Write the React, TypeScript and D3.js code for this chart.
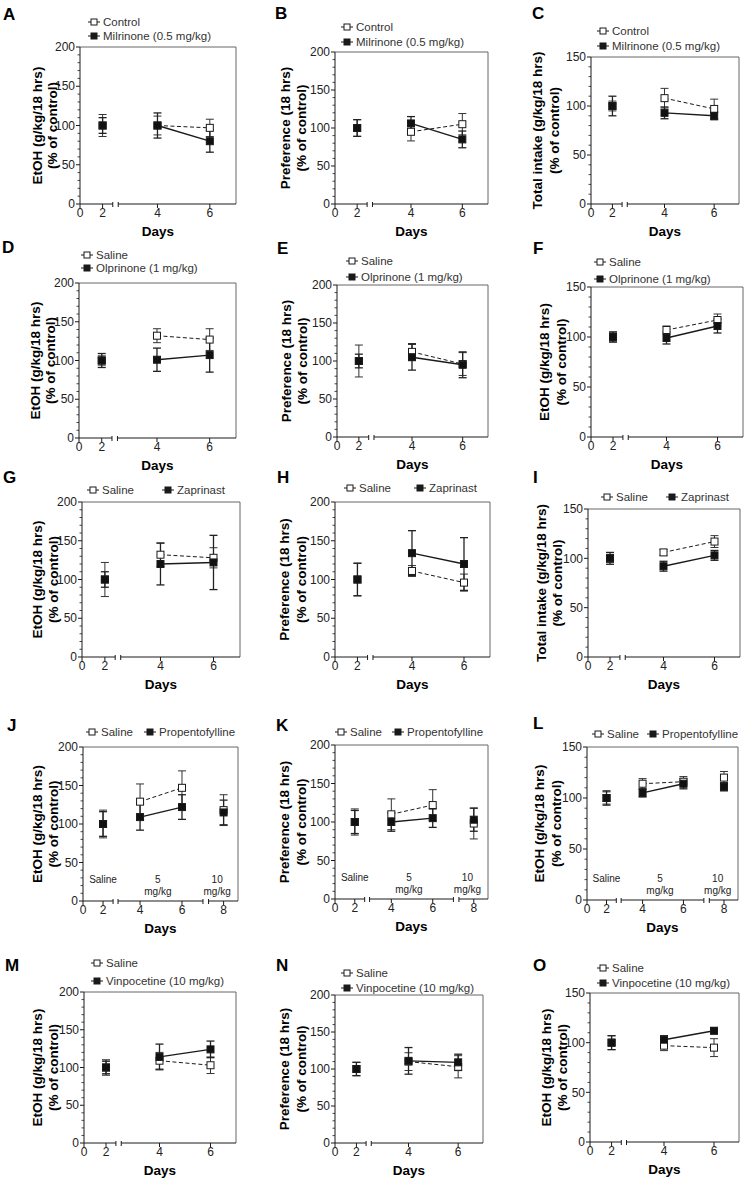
import React from 'react';
import * as d3 from 'd3';

// ---------- DATA ----------
const days3 = [2, 4, 6];
const days4 = [2, 4, 6, 8];

const A_ctrl = [100, 100, 97];  const A_ctrlErr = [14, 12, 11];
const A_drug = [100, 100, 80];  const A_drugErr = [10, 16, 14];
const B_ctrl = [100, 95, 105];  const B_ctrlErr = [11, 12, 14];
const B_drug = [100, 106, 85];  const B_drugErr = [11, 9, 11];
const C_ctrl = [100, 108, 97];  const C_ctrlErr = [5, 10, 10];
const C_drug = [100, 93, 90];   const C_drugErr = [10, 6, 4];
const D_ctrl = [100, 132, 127]; const D_ctrlErr = [6, 9, 14];
const D_drug = [100, 101, 107]; const D_drugErr = [9, 15, 22];
const E_ctrl = [100, 112, 96];  const E_ctrlErr = [21, 11, 15];
const E_drug = [100, 105, 95];  const E_drugErr = [9, 17, 17];
const F_ctrl = [100, 107, 117]; const F_ctrlErr = [5, 4, 6];
const F_drug = [100, 99, 111];  const F_drugErr = [5, 6, 7];
const G_ctrl = [100, 132, 128]; const G_ctrlErr = [22, 15, 13];
const G_drug = [100, 120, 122]; const G_drugErr = [10, 27, 35];
const H_ctrl = [100, 111, 96];  const H_ctrlErr = [21, 7, 11];
const H_drug = [100, 134, 120]; const H_drugErr = [21, 29, 34];
const I_ctrl = [100, 106, 117]; const I_ctrlErr = [4, 3, 6];
const I_drug = [100, 92, 103];  const I_drugErr = [6, 5, 5];
const J_ctrl = [100, 129, 147, 118]; const J_ctrlErr = [18, 23, 22, 20];
const J_drug = [100, 109, 122, 115]; const J_drugErr = [16, 17, 16, 16];
const K_ctrl = [100, 110, 122, 98];  const K_ctrlErr = [17, 20, 20, 20];
const K_drug = [100, 100, 105, 103]; const K_drugErr = [15, 12, 12, 15];
const L_ctrl = [100, 114, 116, 120]; const L_ctrlErr = [6, 5, 5, 6];
const L_drug = [100, 105, 114, 111]; const L_drugErr = [7, 4, 5, 4];
const M_ctrl = [100, 109, 103]; const M_ctrlErr = [8, 11, 11];
const M_drug = [100, 114, 124]; const M_drugErr = [10, 17, 11];
const N_ctrl = [100, 110, 103]; const N_ctrlErr = [9, 12, 15];
const N_drug = [100, 111, 109]; const N_drugErr = [9, 18, 11];
const O_ctrl = [100, 97, 95];   const O_ctrlErr = [7, 5, 9];
const O_drug = [100, 103, 112]; const O_drugErr = [7, 4, 3];

const labEtOH = ['EtOH (g/kg/18 hrs)', '(% of control)'];
const labPref = ['Preference (18 hrs)', '(% of control)'];
const labTotal = ['Total intake (g/kg/18 hrs)', '(% of control)'];

const legMil = ['Control', 'Milrinone (0.5 mg/kg)'];
const legOlp = ['Saline', 'Olprinone (1 mg/kg)'];
const legZap = ['Saline', 'Zaprinast'];
const legProp = ['Saline', 'Propentofylline'];
const legVin = ['Saline', 'Vinpocetine (10 mg/kg)'];

const xTicks3 = [0, 2, 4, 6];
const xTicks4 = [0, 2, 4, 6, 8];
const doseLabels = [['Saline'], ['5', 'mg/kg'], ['10', 'mg/kg']];
const doseAt = [2, 4.85, 7.7];

const panels = [
  { id: 'A', days: days3, ctrl: A_ctrl, ctrlErr: A_ctrlErr, drug: A_drug, drugErr: A_drugErr, ymax: 200, ylab: labEtOH, legend: legMil },
  { id: 'B', days: days3, ctrl: B_ctrl, ctrlErr: B_ctrlErr, drug: B_drug, drugErr: B_drugErr, ymax: 200, ylab: labPref, legend: legMil },
  { id: 'C', days: days3, ctrl: C_ctrl, ctrlErr: C_ctrlErr, drug: C_drug, drugErr: C_drugErr, ymax: 150, ylab: labTotal, legend: legMil },
  { id: 'D', days: days3, ctrl: D_ctrl, ctrlErr: D_ctrlErr, drug: D_drug, drugErr: D_drugErr, ymax: 200, ylab: labEtOH, legend: legOlp },
  { id: 'E', days: days3, ctrl: E_ctrl, ctrlErr: E_ctrlErr, drug: E_drug, drugErr: E_drugErr, ymax: 200, ylab: labPref, legend: legOlp },
  { id: 'F', days: days3, ctrl: F_ctrl, ctrlErr: F_ctrlErr, drug: F_drug, drugErr: F_drugErr, ymax: 150, ylab: labEtOH, legend: legOlp },
  { id: 'G', days: days3, ctrl: G_ctrl, ctrlErr: G_ctrlErr, drug: G_drug, drugErr: G_drugErr, ymax: 200, ylab: labEtOH, legend: legZap },
  { id: 'H', days: days3, ctrl: H_ctrl, ctrlErr: H_ctrlErr, drug: H_drug, drugErr: H_drugErr, ymax: 200, ylab: labPref, legend: legZap },
  { id: 'I', days: days3, ctrl: I_ctrl, ctrlErr: I_ctrlErr, drug: I_drug, drugErr: I_drugErr, ymax: 150, ylab: labTotal, legend: legZap },
  { id: 'J', days: days4, ctrl: J_ctrl, ctrlErr: J_ctrlErr, drug: J_drug, drugErr: J_drugErr, ymax: 200, ylab: labEtOH, legend: legProp },
  { id: 'K', days: days4, ctrl: K_ctrl, ctrlErr: K_ctrlErr, drug: K_drug, drugErr: K_drugErr, ymax: 200, ylab: labPref, legend: legProp },
  { id: 'L', days: days4, ctrl: L_ctrl, ctrlErr: L_ctrlErr, drug: L_drug, drugErr: L_drugErr, ymax: 150, ylab: labEtOH, legend: legProp },
  { id: 'M', days: days3, ctrl: M_ctrl, ctrlErr: M_ctrlErr, drug: M_drug, drugErr: M_drugErr, ymax: 200, ylab: labEtOH, legend: legVin },
  { id: 'N', days: days3, ctrl: N_ctrl, ctrlErr: N_ctrlErr, drug: N_drug, drugErr: N_drugErr, ymax: 200, ylab: labPref, legend: legVin },
  { id: 'O', days: days3, ctrl: O_ctrl, ctrlErr: O_ctrlErr, drug: O_drug, drugErr: O_drugErr, ymax: 150, ylab: labEtOH, legend: legVin },
];

// ---------- LAYOUT ----------
type Leg = { row: boolean; mx: number[]; ys: number[] };
type Lay = { x0: number; x1: number; y0: number; y1: number; letter: number[]; yl: number[]; leg: Leg };
const layouts: Record<string, Lay> = {
  A: { x0: 80, x1: 236, y0: 47, y1: 204, letter: [3, 14], yl: [-43, -28], leg: { row: false, mx: [94], ys: [22, 36] } },
  B: { x0: 335, x1: 488, y0: 52, y1: 204, letter: [275, 13], yl: [-50, -34], leg: { row: false, mx: [347], ys: [27, 42] } },
  C: { x0: 591, x1: 739, y0: 57, y1: 204, letter: [532, 13], yl: [-54, -37], leg: { row: false, mx: [603], ys: [31, 46] } },
  D: { x0: 79, x1: 236, y0: 283, y1: 438, letter: [2, 247], yl: [-44, -29], leg: { row: false, mx: [87], ys: [255, 268] } },
  E: { x0: 337, x1: 488, y0: 285, y1: 437, letter: [277, 248], yl: [-51, -35], leg: { row: false, mx: [352], ys: [261, 277] } },
  F: { x0: 591, x1: 743, y0: 287, y1: 437, letter: [533, 248], yl: [-47, -30], leg: { row: false, mx: [600], ys: [262, 279] } },
  G: { x0: 82, x1: 240, y0: 502, y1: 657, letter: [3, 477], yl: [-45, -29], leg: { row: true, mx: [93, 168], ys: [490] } },
  H: { x0: 335, x1: 490, y0: 502, y1: 657, letter: [277, 477], yl: [-51, -34], leg: { row: true, mx: [350, 420], ys: [488] } },
  I: { x0: 588, x1: 740, y0: 509, y1: 657, letter: [533, 477], yl: [-47, -31], leg: { row: true, mx: [607, 672], ys: [497] } },
  J: { x0: 83, x1: 238, y0: 747, y1: 901, letter: [7, 725], yl: [-46, -30], leg: { row: true, mx: [92, 150], ys: [732] } },
  K: { x0: 335, x1: 488, y0: 745, y1: 899, letter: [276, 725], yl: [-51, -34], leg: { row: true, mx: [341, 398], ys: [732] } },
  L: { x0: 587, x1: 738, y0: 747, y1: 900, letter: [533, 723], yl: [-48, -31], leg: { row: true, mx: [598, 653], ys: [734] } },
  M: { x0: 84, x1: 236, y0: 992, y1: 1143, letter: [5, 965], yl: [-47, -31], leg: { row: false, mx: [97], ys: [963, 981] } },
  N: { x0: 335, x1: 483, y0: 995, y1: 1143, letter: [276, 965], yl: [-51, -34], leg: { row: false, mx: [347], ys: [973, 988] } },
  O: { x0: 590, x1: 739, y0: 993, y1: 1142, letter: [533, 965], yl: [-44, -28], leg: { row: false, mx: [603], ys: [968, 983] } },
};

const segs3 = [
  { d: [0, 2.9], f: [0, 0.21] },
  { d: [2.5, 7], f: [0.245, 1] },
];
const segs4 = [
  { d: [0, 3], f: [0, 0.194] },
  { d: [2.95, 7], f: [0.226, 0.774] },
  { d: [7.3, 8.67], f: [0.81, 1] },
];

const FONT = "'Liberation Sans', Arial, Helvetica, sans-serif";
const INK = '#1a1a1a';

function makeX(x0: number, x1: number, four: boolean) {
  const w = x1 - x0;
  const defs = four ? segs4 : segs3;
  const scales = defs.map((s) =>
    d3.scaleLinear().domain(s.d).range([x0 + s.f[0] * w, x0 + s.f[1] * w])
  );
  const fn = (v: number) => {
    for (let i = 0; i < defs.length; i++) {
      if (v >= defs[i].d[0] && v <= defs[i].d[1]) return scales[i](v);
    }
    return scales[scales.length - 1](v);
  };
  return { fn, scales };
}

function LegendMark({ cx, cy, filled }: { cx: number; cy: number; filled: boolean }) {
  return (
    <g>
      <line x1={cx - 6} x2={cx + 6} y1={cy} y2={cy} stroke={INK} strokeWidth={1} />
      <rect x={cx - 3} y={cy - 3} width={6} height={6} fill={filled ? INK : '#fff'} stroke={INK} strokeWidth={1} />
    </g>
  );
}

function Panel({ p }: { p: (typeof panels)[number] }) {
  const L = layouts[p.id];
  const four = p.days.length === 4;
  const { fn: x, scales } = makeX(L.x0, L.x1, four);
  const y = d3.scaleLinear().domain([0, p.ymax]).range([L.y1, L.y0]);
  const majors = d3.range(0, p.ymax + 1, 50);
  const minors = d3.range(0, p.ymax + 1, 10).filter((v) => v % 50 !== 0);
  const xt = four ? xTicks4 : xTicks3;
  const line = d3.line<[number, number]>().x((d) => x(d[0])).y((d) => y(d[1]));
  const conn = (vals: number[]) =>
    p.days.map((d, i) => [d, vals[i]] as [number, number]).filter((d) => d[0] >= 4 && d[0] <= 6);
  const cy = (L.y0 + L.y1) / 2;
  const cx = (L.x0 + L.x1) / 2;
  const sq = 7;

  const errBars = (vals: number[], errs: number[], filled: boolean) =>
    p.days.map((d, i) => {
      const px = x(d);
      const top = y(vals[i] + errs[i]);
      const bot = y(vals[i] - errs[i]);
      return (
        <g key={'e' + i} stroke={filled ? '#222' : '#333'} strokeWidth={filled ? 1.3 : 1}>
          <line x1={px} x2={px} y1={top} y2={bot} />
          <line x1={px - 4} x2={px + 4} y1={top} y2={top} />
          <line x1={px - 4} x2={px + 4} y1={bot} y2={bot} />
        </g>
      );
    });

  const marks = (vals: number[], filled: boolean) =>
    p.days.map((d, i) => (
      <rect
        key={'m' + i}
        x={x(d) - sq / 2}
        y={y(vals[i]) - sq / 2}
        width={sq}
        height={sq}
        fill={filled ? '#111' : '#fff'}
        stroke={INK}
        strokeWidth={1}
      />
    ));

  return (
    <g fontFamily={FONT}>
      <text x={L.letter[0]} y={L.letter[1]} dominantBaseline="central" fontSize={17} fontWeight="bold" fill="#000">
        {p.id}
      </text>
      <line x1={L.x0} x2={L.x1} y1={L.y0} y2={L.y0} stroke="#666" strokeWidth={1} />
      <line x1={L.x1} x2={L.x1} y1={L.y0} y2={L.y1} stroke="#666" strokeWidth={1} />
      <line x1={L.x0} x2={L.x0} y1={L.y0} y2={L.y1} stroke={INK} strokeWidth={1} />
      {majors.map((v) => (
        <g key={'yt' + v}>
          <line x1={L.x0 - 4} x2={L.x0} y1={y(v)} y2={y(v)} stroke={INK} />
          <text x={L.x0 - 5} y={y(v)} dy="0.35em" textAnchor="end" fontSize={12} fill="#222">
            {v}
          </text>
        </g>
      ))}
      {minors.map((v) => (
        <line key={'ym' + v} x1={L.x0 - 2.5} x2={L.x0} y1={y(v)} y2={y(v)} stroke={INK} strokeWidth={0.8} />
      ))}
      {p.ylab.map((t, i) => (
        <text
          key={'yl' + i}
          transform={`translate(${L.x0 + L.yl[i]},${cy}) rotate(-90)`}
          textAnchor="middle"
          dominantBaseline="central"
          fontSize={13.5}
          fontWeight="bold"
          fill="#000"
        >
          {t}
        </text>
      ))}
      {scales.map((s, i) => {
        const [r0, r1] = s.range();
        return (
          <g key={'seg' + i} stroke={INK} strokeWidth={1}>
            <line x1={r0} x2={r1} y1={L.y1} y2={L.y1} />
            {i > 0 && <line x1={r0} x2={r0} y1={L.y1 - 2} y2={L.y1 + 3} />}
            {i < scales.length - 1 && <line x1={r1} x2={r1} y1={L.y1 - 2} y2={L.y1 + 3} />}
          </g>
        );
      })}
      {xt.map((v) => (
        <g key={'xt' + v}>
          <line x1={x(v)} x2={x(v)} y1={L.y1} y2={L.y1 + 4} stroke={INK} />
          <text x={x(v)} y={L.y1 + 9} dy="0.35em" textAnchor="middle" fontSize={12} fill="#222">
            {v}
          </text>
        </g>
      ))}
      <text x={cx} y={L.y1 + 27} dy="0.35em" textAnchor="middle" fontSize={13.5} fontWeight="bold" fill="#000">
        Days
      </text>
      {four &&
        doseLabels.map((lines, i) =>
          lines.map((t, j) => (
            <text
              key={'dl' + i + j}
              x={x(doseAt[i])}
              y={L.y1 - 22 + j * 12}
              dy="0.35em"
              textAnchor="middle"
              fontSize={10}
              fill="#222"
            >
              {t}
            </text>
          ))
        )}
      {errBars(p.ctrl, p.ctrlErr, false)}
      {errBars(p.drug, p.drugErr, true)}
      <path d={line(conn(p.ctrl)) || ''} fill="none" stroke={INK} strokeWidth={1} strokeDasharray="4,2.5" />
      <path d={line(conn(p.drug)) || ''} fill="none" stroke={INK} strokeWidth={1.4} />
      {marks(p.ctrl, false)}
      {marks(p.drug, true)}
      {p.legend.map((t, i) => {
        const mx = L.leg.row ? L.leg.mx[i] : L.leg.mx[0];
        const my = L.leg.row ? L.leg.ys[0] : L.leg.ys[i];
        return (
          <g key={'lg' + i}>
            <LegendMark cx={mx} cy={my} filled={i === 1} />
            <text x={mx + 9} y={my} dy="0.35em" fontSize={11.5} fill="#333">
              {t}
            </text>
          </g>
        );
      })}
    </g>
  );
}

export default function App() {
  return (
    <svg
      width={745}
      height={1181}
      viewBox="0 0 745 1181"
      style={{ position: 'absolute', left: 0, top: 0, background: '#fff' }}
    >
      <rect x={0} y={0} width={745} height={1181} fill="#fff" />
      {panels.map((p) => (
        <Panel key={p.id} p={p} />
      ))}
    </svg>
  );
}
